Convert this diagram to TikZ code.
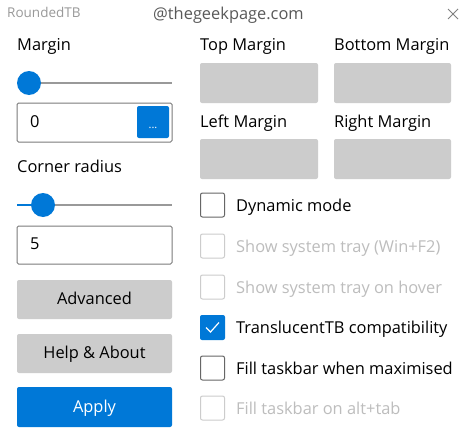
\documentclass[tikz,border=0pt]{standalone}
\usepackage{fontspec}
\setmainfont{Open Sans}
\definecolor{winblue}{HTML}{0078D7}
\definecolor{btngrey}{HTML}{CCCCCC}
\definecolor{bordergrey}{HTML}{7A7A7A}
\definecolor{disgrey}{HTML}{BDBDBD}
\definecolor{disborder}{HTML}{CCCCCC}
\definecolor{tracky}{HTML}{999999}
\begin{document}
\begin{tikzpicture}[x=1pt,y=-1pt,
  lbl/.style={anchor=mid west,inner sep=0pt,font=\fontsize{16.4}{19}\selectfont,text=black},
  dislbl/.style={lbl,text=disgrey},
  clbl/.style={anchor=mid,inner sep=0pt,font=\fontsize{16.4}{19}\selectfont},
  txtbox/.style={draw=bordergrey,line width=1pt,rounded corners=1.5pt},
  greybtn/.style={fill=btngrey,rounded corners=2pt},
  bluebtn/.style={fill=winblue,rounded corners=2pt},
  chk/.style={draw=black!60,line width=1pt,rounded corners=2pt},
  dischk/.style={draw=disborder,line width=1pt,rounded corners=2pt},
  thumb/.style={fill=winblue},
]
\useasboundingbox[fill=white] (0,0) rectangle (474,439);
% title bar
\node[anchor=mid west,inner sep=0pt,text=black!40,font=\fontsize{13.5}{15}\selectfont] (title) at (7,15) {RoundedTB};
\node[anchor=mid west,inner sep=0pt,text=black!65,font=\fontsize{16.4}{19}\selectfont] (wm) at (153,17) {@thegeekpage.com};
\draw[black!50,line width=0.8pt] (448,9) -- (458,19) (458,9) -- (448,19);
\coordinate (close) at (453,14);
% left column
\node[lbl] (margin) at (17,48) {Margin};
\draw[tracky,line width=1.5pt] (17,83) -- (172,83);
\fill[thumb] (29,83) circle (12);
\draw[txtbox] (17,103) rectangle (172,142);
\node[lbl] (zero) at (30,125) {0};
\fill[bluebtn] (137,106) rectangle (169,138);
\node[anchor=base,text=white,inner sep=0pt,font=\fontsize{11}{12}\selectfont] (dots) at (153,128) {...};
\node[lbl] (corner) at (17,170) {Corner radius};
\draw[tracky,line width=1.5pt] (43,205) -- (172,205);
\draw[winblue,line width=1.5pt] (17,205) -- (43,205);
\fill[thumb] (43,205) circle (12);
\draw[txtbox] (17,226) rectangle (172,264);
\node[lbl] (five) at (30,247) {5};
\fill[greybtn] (17,280) rectangle (172,319);
\node[clbl] (adv) at (94.5,302) {Advanced};
\fill[greybtn] (17,334) rectangle (172,373);
\node[clbl] (help) at (94.5,356) {Help \& About};
\fill[bluebtn] (17,387) rectangle (172,427);
\node[clbl,text=white] (apply) at (94.5,410) {Apply};
% right column
\node[lbl] (top) at (200,48) {Top Margin};
\node[lbl] (bottom) at (334,48) {Bottom Margin};
\fill[greybtn] (200,63) rectangle (318,103);
\fill[greybtn] (334,63) rectangle (451,103);
\node[lbl] (left) at (200,124.5) {Left Margin};
\node[lbl] (right) at (334,124.5) {Right Margin};
\fill[greybtn] (200,139) rectangle (318,179);
\fill[greybtn] (334,139) rectangle (451,179);
% checkboxes
\draw[chk] (200.5,193) rectangle (224.5,217);
\node[lbl] (dyn) at (236,208.5) {Dynamic mode};
\draw[dischk] (200.5,234) rectangle (224.5,258);
\node[dislbl] (tray) at (236,249.5) {Show system tray (Win+F2)};
\draw[dischk] (200.5,275) rectangle (224.5,299);
\node[dislbl] (hover) at (236,290.5) {Show system tray on hover};
\fill[winblue,rounded corners=2pt] (200,315) rectangle (225,340);
\draw[white,line width=1.2pt] (206,327.5) -- (210.5,332) -- (219,322.5);
\node[lbl] (ttb) at (236,330.5) {TranslucentTB compatibility};
\draw[chk] (200.5,356) rectangle (224.5,380);
\node[lbl] (fill) at (236,371.5) {Fill taskbar when maximised};
\draw[dischk] (200.5,396) rectangle (224.5,420);
\node[dislbl] (alttab) at (236,411.5) {Fill taskbar on alt+tab};
\end{tikzpicture}
\end{document}
